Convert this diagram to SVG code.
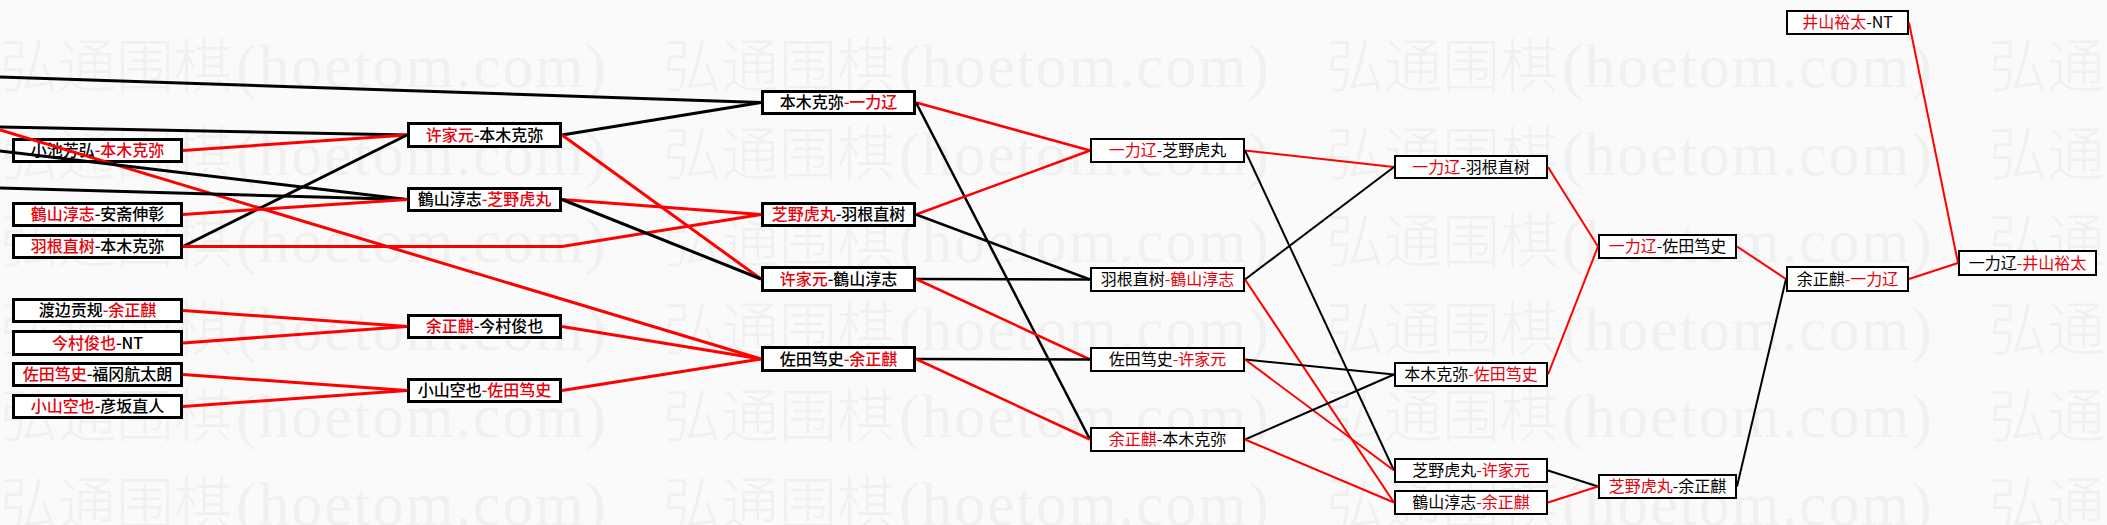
<svg xmlns="http://www.w3.org/2000/svg" xmlns:xlink="http://www.w3.org/1999/xlink" width="2107" height="525" viewBox="0 0 2107 525">
<style>
.bg{fill:#fafafa}
.wm{font-family:"Noto Sans CJK SC","Liberation Serif",serif;font-size:58px;font-weight:300;fill:#f0f0f0}
.wml{font-family:"Liberation Serif",serif;font-size:62px;fill:#f0f0f0}
.n rect{fill:#fff;stroke:#000;stroke-width:3}
.n.t rect{stroke-width:2}
.n text{font-family:"Noto Sans CJK SC","Liberation Sans",sans-serif;font-size:16px;text-anchor:middle;fill:#000}
.n.h text{font-weight:500}
.n .r{fill:#e8000b}
.c line,.c polyline{fill:none;stroke-linecap:butt}
.k{stroke:#000}
.rd{stroke:#f00}
.w3 line,.w3 polyline{stroke-width:3}
.w25 line{stroke-width:2.5}
.w2 line{stroke-width:2}
</style>
<defs>
<g id="wm"><text class="wm" x="0" y="0">弘通围棋</text><text class="wml" x="236" y="0" textLength="370" lengthAdjust="spacing">(hoetom.com)</text></g>
</defs>
<rect class="bg" x="0" y="0" width="2107" height="525"/>
<g id="watermark">
<use xlink:href="#wm" x="0" y="87"/><use xlink:href="#wm" x="663" y="87"/><use xlink:href="#wm" x="1326" y="87"/><use xlink:href="#wm" x="1989" y="87"/>
<use xlink:href="#wm" x="0" y="174.5"/><use xlink:href="#wm" x="663" y="174.5"/><use xlink:href="#wm" x="1326" y="174.5"/><use xlink:href="#wm" x="1989" y="174.5"/>
<use xlink:href="#wm" x="0" y="262"/><use xlink:href="#wm" x="663" y="262"/><use xlink:href="#wm" x="1326" y="262"/><use xlink:href="#wm" x="1989" y="262"/>
<use xlink:href="#wm" x="0" y="349.5"/><use xlink:href="#wm" x="663" y="349.5"/><use xlink:href="#wm" x="1326" y="349.5"/><use xlink:href="#wm" x="1989" y="349.5"/>
<use xlink:href="#wm" x="0" y="437"/><use xlink:href="#wm" x="663" y="437"/><use xlink:href="#wm" x="1326" y="437"/><use xlink:href="#wm" x="1989" y="437"/>
<use xlink:href="#wm" x="0" y="524.5"/><use xlink:href="#wm" x="663" y="524.5"/><use xlink:href="#wm" x="1326" y="524.5"/><use xlink:href="#wm" x="1989" y="524.5"/>
</g>

<g id="n1a" class="n h"><rect x="13.5" y="139.5" width="168" height="22"/><text x="97.5" y="156">小池芳弘<tspan class="r">-本木克弥</tspan></text></g>
<g id="n1b" class="n h"><rect x="13.5" y="203.5" width="168" height="22"/><text x="97.5" y="220"><tspan class="r">鶴山淳志</tspan>-安斋伸彰</text></g>
<g id="n1c" class="n h"><rect x="13.5" y="235.5" width="168" height="22"/><text x="97.5" y="252"><tspan class="r">羽根直树</tspan>-本木克弥</text></g>
<g id="n1d" class="n h"><rect x="13.5" y="299.5" width="168" height="22"/><text x="97.5" y="316">渡边贡规<tspan class="r">-余正麒</tspan></text></g>
<g id="n1e" class="n h"><rect x="13.5" y="331.5" width="168" height="23"/><text x="97.5" y="348.5"><tspan class="r">今村俊也</tspan>-NT</text></g>
<g id="n1f" class="n h"><rect x="13.5" y="363.5" width="168" height="22"/><text x="97.5" y="380"><tspan class="r">佐田笃史</tspan>-福冈航太朗</text></g>
<g id="n1g" class="n h"><rect x="13.5" y="395.5" width="168" height="22"/><text x="97.5" y="412"><tspan class="r">小山空也</tspan>-彦坂直人</text></g>

<g id="n2a" class="n h"><rect x="408.5" y="123.5" width="152" height="23"/><text x="484.5" y="140.5"><tspan class="r">许家元</tspan>-本木克弥</text></g>
<g id="n2b" class="n h"><rect x="408.5" y="188.5" width="152" height="22"/><text x="484.5" y="205">鶴山淳志<tspan class="r">-芝野虎丸</tspan></text></g>
<g id="n2c" class="n h"><rect x="408.5" y="315.5" width="152" height="22"/><text x="484.5" y="332"><tspan class="r">余正麒</tspan>-今村俊也</text></g>
<g id="n2d" class="n h"><rect x="408.5" y="379.5" width="152" height="22"/><text x="484.5" y="396">小山空也<tspan class="r">-佐田笃史</tspan></text></g>

<g id="n3a" class="n h"><rect x="762.5" y="91.5" width="152" height="22"/><text x="838.5" y="108">本木克弥<tspan class="r">-一力辽</tspan></text></g>
<g id="n3b" class="n h"><rect x="762.5" y="203.5" width="152" height="22"/><text x="838.5" y="220"><tspan class="r">芝野虎丸</tspan>-羽根直树</text></g>
<g id="n3c" class="n h"><rect x="762.5" y="267.5" width="152" height="23"/><text x="838.5" y="284.5"><tspan class="r">许家元</tspan>-鶴山淳志</text></g>
<g id="n3d" class="n h"><rect x="762.5" y="347.5" width="152" height="23"/><text x="838.5" y="364.5">佐田笃史<tspan class="r">-余正麒</tspan></text></g>

<g id="n4a" class="n t"><rect x="1091" y="139" width="153" height="23"/><text x="1167.5" y="156"><tspan class="r">一力辽</tspan>-芝野虎丸</text></g>
<g id="n4b" class="n t"><rect x="1091" y="268" width="153" height="23"/><text x="1167.5" y="285">羽根直树<tspan class="r">-鶴山淳志</tspan></text></g>
<g id="n4c" class="n t"><rect x="1091" y="348" width="153" height="23"/><text x="1167.5" y="365">佐田笃史<tspan class="r">-许家元</tspan></text></g>
<g id="n4d" class="n t"><rect x="1091" y="428" width="153" height="23"/><text x="1167.5" y="445"><tspan class="r">余正麒</tspan>-本木克弥</text></g>

<g id="n5a" class="n t"><rect x="1395" y="156" width="152" height="22"/><text x="1471" y="172.5"><tspan class="r">一力辽</tspan>-羽根直树</text></g>
<g id="n5b" class="n t"><rect x="1395" y="363" width="152" height="23"/><text x="1471" y="380">本木克弥<tspan class="r">-佐田笃史</tspan></text></g>
<g id="n5c" class="n t"><rect x="1395" y="459" width="152" height="23"/><text x="1471" y="476">芝野虎丸<tspan class="r">-许家元</tspan></text></g>
<g id="n5d" class="n t"><rect x="1395" y="491" width="152" height="23"/><text x="1471" y="508">鶴山淳志<tspan class="r">-余正麒</tspan></text></g>

<g id="n6a" class="n t"><rect x="1599" y="235" width="137" height="23"/><text x="1667.5" y="252"><tspan class="r">一力辽</tspan>-佐田笃史</text></g>
<g id="n6b" class="n t"><rect x="1599" y="475" width="137" height="23"/><text x="1667.5" y="492"><tspan class="r">芝野虎丸</tspan>-余正麒</text></g>

<g id="n7" class="n t"><rect x="1787" y="267" width="121" height="24"/><text x="1847.5" y="284.5">余正麒<tspan class="r">-一力辽</tspan></text></g>
<g id="n8" class="n t"><rect x="1959" y="251" width="137" height="24"/><text x="2027.5" y="268.5">一力辽<tspan class="r">-井山裕太</tspan></text></g>
<g id="n0" class="n t"><rect x="1787" y="11" width="121" height="23"/><text x="1847.5" y="28"><tspan class="r">井山裕太</tspan>-NT</text></g>

<g id="connectors" class="c">
<g class="w3">
<line class="k" x1="0" y1="77" x2="761" y2="102.5"/>
<line class="k" x1="0" y1="127" x2="407" y2="135"/>
<line class="rd" x1="0" y1="130" x2="761" y2="359"/>
<line class="k" x1="0" y1="151" x2="407" y2="199.5"/>
<line class="k" x1="0" y1="188" x2="407" y2="199.5"/>
<line class="rd" x1="183" y1="150.5" x2="407" y2="135"/>
<line class="k" x1="183" y1="246.5" x2="407" y2="135"/>
<line class="rd" x1="183" y1="214.5" x2="407" y2="199.5"/>
<polyline class="rd" points="183,246.5 562,246.5 761,214.5"/>
<line class="rd" x1="183" y1="310.5" x2="407" y2="326.5"/>
<line class="rd" x1="183" y1="343" x2="407" y2="326.5"/>
<line class="rd" x1="183" y1="374.5" x2="407" y2="390.5"/>
<line class="rd" x1="183" y1="406.5" x2="407" y2="390.5"/>
<line class="k" x1="562" y1="135" x2="761" y2="102.5"/>
<line class="rd" x1="562" y1="135" x2="761" y2="279"/>
<line class="rd" x1="562" y1="199.5" x2="761" y2="214.5"/>
<line class="k" x1="562" y1="199.5" x2="761" y2="279"/>
<line class="rd" x1="562" y1="326.5" x2="761" y2="359"/>
<line class="rd" x1="562" y1="390.5" x2="761" y2="359"/>
</g>
<g class="w25">
<line class="rd" x1="916" y1="102.5" x2="1090" y2="150.5"/>
<line class="k" x1="916" y1="102.5" x2="1090" y2="439.5"/>
<line class="rd" x1="916" y1="214.5" x2="1090" y2="150.5"/>
<line class="k" x1="916" y1="214.5" x2="1090" y2="279.5"/>
<line class="k" x1="916" y1="279" x2="1090" y2="279.5"/>
<line class="rd" x1="916" y1="279" x2="1090" y2="359.5"/>
<line class="k" x1="916" y1="359" x2="1090" y2="359.5"/>
<line class="rd" x1="916" y1="359" x2="1090" y2="439.5"/>
</g>
<g class="w2">
<line class="rd" x1="1245" y1="150.5" x2="1394" y2="167"/>
<line class="k" x1="1245" y1="150.5" x2="1394" y2="470.5"/>
<line class="k" x1="1245" y1="279.5" x2="1394" y2="167"/>
<line class="rd" x1="1245" y1="279.5" x2="1394" y2="502.5"/>
<line class="k" x1="1245" y1="359.5" x2="1394" y2="374.5"/>
<line class="rd" x1="1245" y1="359.5" x2="1394" y2="470.5"/>
<line class="k" x1="1245" y1="439.5" x2="1394" y2="374.5"/>
<line class="rd" x1="1245" y1="439.5" x2="1394" y2="502.5"/>
<line class="rd" x1="1548" y1="167" x2="1598" y2="246.5"/>
<line class="rd" x1="1548" y1="374.5" x2="1598" y2="246.5"/>
<line class="k" x1="1548" y1="470.5" x2="1598" y2="486.5"/>
<line class="rd" x1="1548" y1="502.5" x2="1598" y2="486.5"/>
<line class="rd" x1="1737" y1="246.5" x2="1786" y2="279"/>
<line class="k" x1="1737" y1="486.5" x2="1786" y2="279"/>
<line class="rd" x1="1909" y1="279" x2="1958" y2="263"/>
<line class="rd" x1="1909" y1="22.5" x2="1958" y2="263"/>
</g>
</g>
</svg>
